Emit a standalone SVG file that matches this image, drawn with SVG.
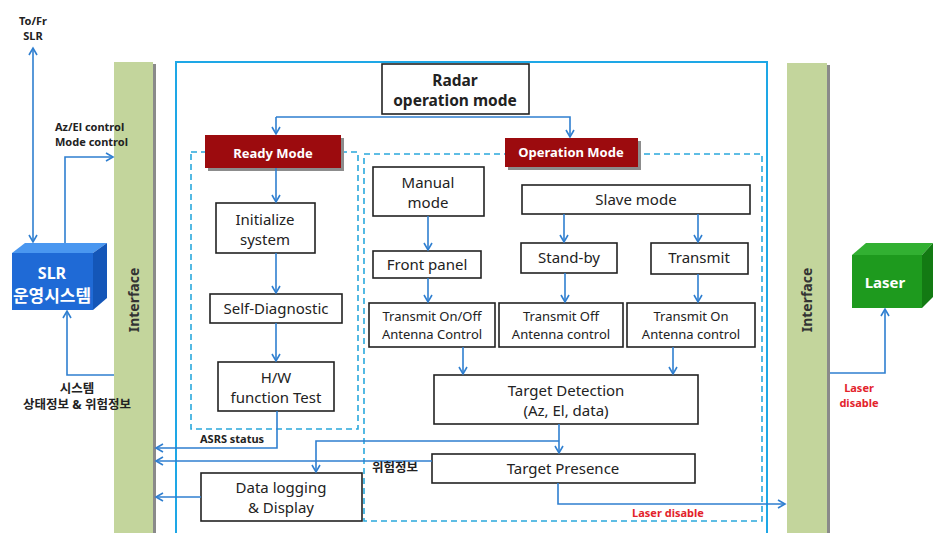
<svg xmlns="http://www.w3.org/2000/svg" width="939" height="533" viewBox="0 0 939 533">
  <style>
    text { font-family: "Noto Sans", "Open Sans", "Noto Sans CJK KR", sans-serif; fill: #222; }
    .box { fill: #fff; stroke: #222; stroke-width: 1.6; }
    .t15 { font-size: 15px; text-anchor: middle; }
    .t13 { font-size: 13px; text-anchor: middle; }
    .title { font-size: 15.5px; font-weight: bold; text-anchor: middle; }
    .lbl { font-size: 11px; font-weight: bold; fill: #222; }
    .ko { font-size: 12.5px; font-weight: bold; fill: #222; }
    .red { font-size: 11px; font-weight: bold; fill: #e3232b; text-anchor: middle; }
    .mode { fill: #9c0b0e; }
    .modeShadow { fill: #8c8c8c; }
    .modeText { font-size: 13px; font-weight: bold; fill: #fff; text-anchor: middle; }
    .dash { fill: none; stroke: #2aa8dc; stroke-width: 1.6; stroke-dasharray: 6 4; }
    .bar { fill: #c3d59c; }
    .barShadow { fill: #8a8a8a; }
    .barText { font-size: 14px; font-weight: bold; fill: #333; text-anchor: middle; }
    .conn { fill: none; stroke: #2f7fd0; stroke-width: 1.6; }
  </style>
  <defs>
    <marker id="arrow" markerUnits="userSpaceOnUse" markerWidth="10" markerHeight="10" refX="8" refY="5" orient="auto-start-reverse">
      <path d="M1,1 L8,5 L1,9" fill="none" stroke="#2f7fd0" stroke-width="1.6"/>
    </marker>
  </defs>

  <!-- outer system frame -->
  <rect x="176" y="62" width="591" height="490" fill="none" stroke="#1ea7e6" stroke-width="2"/>

  <!-- interface bars -->
  <g id="interface-left">
    <rect class="barShadow" x="153" y="64" width="3" height="469"/>
    <rect class="bar" x="114" y="62" width="39" height="471"/>
    <text class="barText" transform="translate(139,300) rotate(-90)">Interface</text>
  </g>
  <g id="interface-right">
    <rect class="barShadow" x="827" y="65" width="3" height="468"/>
    <rect class="bar" x="787" y="63" width="40" height="470"/>
    <text class="barText" transform="translate(812,300) rotate(-90)">Interface</text>
  </g>

  <!-- SLR operating system block -->
  <g id="slr">
    <polygon points="12,253 25,243 107,243 93,253" fill="#4a97f0"/>
    <polygon points="93,253 107,243 107,298 93,310" fill="#1456b8"/>
    <rect x="12" y="253" width="81" height="57" fill="#1f6ad6"/>
    <text x="52" y="279" style="font-size:16px;font-weight:bold;fill:#fff;text-anchor:middle">SLR</text>
    <text x="52" y="302" style="font-size:17px;font-weight:bold;fill:#fff;text-anchor:middle">운영시스템</text>
  </g>

  <!-- laser block -->
  <g id="laser">
    <polygon points="852,255 866,243 933,243 922,255" fill="#32b032"/>
    <polygon points="922,255 933,243 933,297 922,308" fill="#137a13"/>
    <rect x="852" y="255" width="70" height="53" fill="#1e9a1e"/>
    <text x="885" y="288" style="font-size:15px;font-weight:bold;fill:#fff;text-anchor:middle">Laser</text>
  </g>

  <!-- dashed mode groups -->
  <rect id="ready-group" class="dash" x="191" y="152" width="167" height="277"/>
  <rect id="operation-group" class="dash" x="364" y="154" width="398" height="367"/>

  <g id="radar-mode">
    <rect class="box" x="382" y="64" width="147" height="50"/>
    <text class="title" x="455" y="86">Radar</text>
    <text class="title" x="455" y="106">operation mode</text>
  </g>

  <g id="ready-mode">
    <rect class="modeShadow" x="208" y="138" width="136" height="33"/>
    <rect class="mode" x="205" y="135" width="136" height="33"/>
    <text class="modeText" x="273" y="158">Ready Mode</text>
  </g>

  <g id="operation-mode">
    <rect class="modeShadow" x="508" y="141" width="133" height="29"/>
    <rect class="mode" x="505" y="138" width="133" height="29"/>
    <text class="modeText" x="571" y="157">Operation Mode</text>
  </g>

  <g id="initialize">
    <rect class="box" x="216" y="203" width="99" height="50"/>
    <text class="t15" x="265" y="225">Initialize</text>
    <text class="t15" x="265" y="245">system</text>
  </g>
  <g id="self-diagnostic">
    <rect class="box" x="210" y="294" width="132" height="29"/>
    <text class="t15" x="276" y="314">Self-Diagnostic</text>
  </g>
  <g id="hw-test">
    <rect class="box" x="218" y="362" width="116" height="49"/>
    <text class="t15" x="276" y="383">H/W</text>
    <text class="t15" x="276" y="403">function Test</text>
  </g>

  <g id="manual-mode">
    <rect class="box" x="373" y="167" width="111" height="49"/>
    <text class="t15" x="428" y="188">Manual</text>
    <text class="t15" x="428" y="208">mode</text>
  </g>
  <g id="front-panel">
    <rect class="box" x="373" y="251" width="108" height="27"/>
    <text class="t15" x="427" y="270">Front panel</text>
  </g>
  <g id="tx-onoff">
    <rect class="box" x="369" y="303" width="126" height="44"/>
    <text class="t13" x="432" y="321">Transmit On/Off</text>
    <text class="t13" x="432" y="339">Antenna Control</text>
  </g>

  <g id="slave-mode">
    <rect class="box" x="522" y="185" width="228" height="29"/>
    <text class="t15" x="636" y="205">Slave mode</text>
  </g>
  <g id="stand-by">
    <rect class="box" x="521" y="243" width="96" height="30"/>
    <text class="t15" x="569" y="263">Stand-by</text>
  </g>
  <g id="transmit">
    <rect class="box" x="651" y="243" width="97" height="31"/>
    <text class="t15" x="699" y="263">Transmit</text>
  </g>
  <g id="tx-off">
    <rect class="box" x="499" y="303" width="124" height="44"/>
    <text class="t13" x="561" y="321">Transmit Off</text>
    <text class="t13" x="561" y="339">Antenna control</text>
  </g>
  <g id="tx-on">
    <rect class="box" x="627" y="303" width="128" height="44"/>
    <text class="t13" x="691" y="321">Transmit On</text>
    <text class="t13" x="691" y="339">Antenna control</text>
  </g>

  <g id="target-detection">
    <rect class="box" x="434" y="375" width="264" height="49"/>
    <text class="t15" x="566" y="396">Target Detection</text>
    <text class="t15" x="566" y="416">(Az, El, data)</text>
  </g>
  <g id="target-presence">
    <rect class="box" x="432" y="454" width="263" height="29"/>
    <text class="t15" x="563" y="474">Target Presence</text>
  </g>
  <g id="data-logging">
    <rect class="box" x="201" y="473" width="161" height="48"/>
    <text class="t15" x="281" y="493">Data logging</text>
    <text class="t15" x="281" y="513">&amp; Display</text>
  </g>

  <!-- connectors -->
  <g id="connectors">
    <!-- SLR link -->
    <path class="conn" d="M33,242 L33,48" marker-start="url(#arrow)" marker-end="url(#arrow)"/>
    <path class="conn" d="M65,243 L65,157 L113,157" marker-end="url(#arrow)"/>
    <path class="conn" d="M114,375 L67,375 L67,311" marker-end="url(#arrow)"/>

    <!-- radar mode split -->
    <path class="conn" d="M276,117 L276,134" marker-end="url(#arrow)"/>
    <path class="conn" d="M276,117 L570,117 L570,137" marker-end="url(#arrow)"/>

    <!-- ready mode chain -->
    <path class="conn" d="M276,168 L276,202" marker-end="url(#arrow)"/>
    <path class="conn" d="M276,253 L276,293" marker-end="url(#arrow)"/>
    <path class="conn" d="M276,323 L276,361" marker-end="url(#arrow)"/>

    <!-- manual chain -->
    <path class="conn" d="M428,216 L428,250" marker-end="url(#arrow)"/>
    <path class="conn" d="M428,278 L428,302" marker-end="url(#arrow)"/>

    <!-- slave chain -->
    <path class="conn" d="M564,214 L564,242" marker-end="url(#arrow)"/>
    <path class="conn" d="M698,214 L698,242" marker-end="url(#arrow)"/>
    <path class="conn" d="M565,273 L565,302" marker-end="url(#arrow)"/>
    <path class="conn" d="M698,274 L698,302" marker-end="url(#arrow)"/>

    <!-- into target detection -->
    <path class="conn" d="M463,347 L463,374" marker-end="url(#arrow)"/>
    <path class="conn" d="M673,347 L673,374" marker-end="url(#arrow)"/>

    <!-- detection to presence and logging -->
    <path class="conn" d="M559,424 L559,453" marker-end="url(#arrow)"/>
    <path class="conn" d="M559,441 L316,441 L316,472" marker-end="url(#arrow)"/>

    <!-- status lines to interface -->
    <path class="conn" d="M277,411 L277,448 L156,448" marker-end="url(#arrow)"/>
    <path class="conn" d="M432,461 L156,461" marker-end="url(#arrow)"/>
    <path class="conn" d="M201,497 L156,497" marker-end="url(#arrow)"/>

    <!-- laser disable -->
    <path class="conn" d="M558,483 L558,504 L785,504" marker-end="url(#arrow)"/>
    <path class="conn" d="M830,373 L885,373 L885,309" marker-end="url(#arrow)"/>
  </g>

  <!-- link labels -->
  <text class="lbl" x="33" y="25" text-anchor="middle">To/Fr</text>
  <text class="lbl" x="33" y="40" text-anchor="middle">SLR</text>
  <text class="lbl" x="55" y="131">Az/El control</text>
  <text class="lbl" x="55" y="146">Mode control</text>
  <text class="ko" x="77" y="393" text-anchor="middle">시스템</text>
  <text class="ko" x="77" y="409" text-anchor="middle">상태정보 &amp; 위험정보</text>
  <text class="lbl" x="200" y="443">ASRS status</text>
  <text class="ko" x="372" y="472">위험정보</text>
  <text class="red" x="668" y="517">Laser disable</text>
  <text class="red" x="859" y="392">Laser</text>
  <text class="red" x="859" y="407">disable</text>
</svg>
